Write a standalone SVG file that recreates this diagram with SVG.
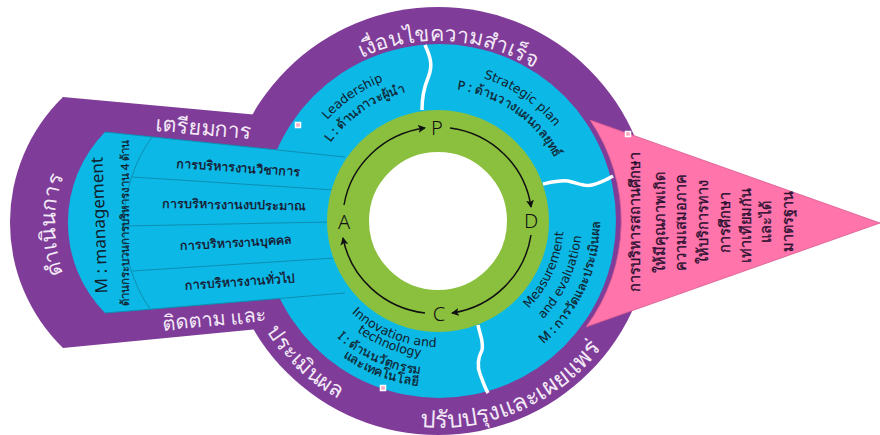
<svg xmlns="http://www.w3.org/2000/svg" width="880" height="435" viewBox="0 0 880 435">
<style>
text{font-family:"Noto Sans","Open Sans","DejaVu Sans",sans-serif;text-anchor:middle}
.h{fill:#f3e9f7;font-size:21.500px}
.k{fill:#10202c;font-size:12.500px;font-family:"DejaVu Sans",sans-serif}
.a{fill:#10202c;font-size:12.500px;stroke:#10202c;stroke-width:0.250}
.b{fill:#1a1026;font-size:12.500px;stroke:#1a1026;stroke-width:0.300}
.p{fill:#2a1030;font-size:14.500px;stroke:#2a1030;stroke-width:0.300}
.l{fill:#111;font-size:20px;font-weight:300}
.d{stroke:#0c8fb2;stroke-width:1;fill:none}
.w{stroke:#fff;stroke-width:3.500;fill:none}
.c{stroke:#111;stroke-width:1.500;fill:none;marker-end:url(#ah)}
.s{fill:#f8a9c4;stroke:#fff;stroke-width:1.500}
</style>
<defs>
<marker id="ah" markerWidth="10" markerHeight="10" refX="7" refY="4" orient="auto" markerUnits="userSpaceOnUse"><path d="M0,0L8,4L0,8L2,4Z" fill="#111"/></marker>
<path id="t180" d="M258,221A180,180 0 0 1 618,221"/>
<path id="t150" d="M288,221A150,150 0 0 1 588,221"/>
<path id="t133" d="M305,221A133,133 0 0 1 571,221"/>
<path id="b126" d="M312,221A126,126 0 0 0 564,221"/>
<path id="b137" d="M301,221A137,137 0 0 0 575,221"/>
<path id="b144" d="M294,221A144,144 0 0 0 582,221"/>
<path id="b154" d="M284,221A154,154 0 0 0 592,221"/>
<path id="b162" d="M276,221A162,162 0 0 0 600,221"/>
<path id="b166" d="M272,221A166,166 0 0 0 604,221"/>
<path id="b204" d="M234,221A204,204 0 0 0 642,221"/>
<path id="b207" d="M231,221A207,207 0 0 0 645,221"/>
<path id="lft" d="M195,365A140,140 0 0 1 195,85"/>
</defs>
<g id="frame">
<circle cx="438" cy="221" r="214" fill="#7f3c98"/>
<path d="M63,97L270,116L270,328L63,348A175,175 0 0 1 63,97Z" fill="#7f3c98"/>
</g>
<g id="pink-goal">
<path d="M590,120L880,223L586,327A178,178 0 0 0 590,120Z" fill="#ff74ab" stroke="#d85a90" stroke-width="0.800"/>
</g>
<g id="cyan-ring">
<circle cx="439" cy="221" r="177" fill="#0cb8e6"/>
</g>
<g id="manage-arm">
<path d="M105,132L345,157L345,293L105,313A129,129 0 0 1 105,132Z" fill="#0cb8e6"/>
<path class="d" d="M152,137A150,150 0 0 0 150,309M132,177L335,190M125,226L330,222M132,271L335,258M105,132L345,157M105,313L345,293"/>
<text class="a" style="font-size:17px;stroke:none" transform="translate(105,225) rotate(-92)">M : management</text>
<text class="a" style="font-size:11.500px" transform="translate(129,223) rotate(-90)">ด้านกระบวนการบริหารงาน 4 ด้าน</text>
<text class="b" transform="translate(238,172) rotate(4)">การบริหารงานวิชาการ</text>
<text class="b" transform="translate(234,209) rotate(1)">การบริหารงานงบประมาณ</text>
<text class="b" transform="translate(236,247) rotate(-3)">การบริหารงานบุคคล</text>
<text class="b" transform="translate(240,286) rotate(-4)">การบริหารงานทั่วไป</text>
</g>
<g id="dividers">
<path class="w" d="M425,45C431,58 433,66 428,78C423,90 422,98 422,110"/>
<path class="w" d="M543,184C552,182 560,180 568,181C578,183 585,187 592,185C600,183 606,180 613,176"/>
<path class="w" d="M478,325C480,335 484,342 482,350C478,358 477,366 480,374C483,382 485,388 488,393"/>
</g>
<g id="green-ring">
<circle cx="438" cy="221" r="90" fill="#fff" stroke="#8bc03f" stroke-width="42"/>
</g>
<g id="pdca-arrows">
<path class="c" d="M344,205A95,93 0 0 1 425,128"/>
<path class="c" d="M450,128A94,93 0 0 1 531,207"/>
<path class="c" d="M531,235A94,93 0 0 1 452,313"/>
<path class="c" d="M425,313A95,93 0 0 1 343,238"/>
</g>
<g id="node-p"><text class="l" x="437" y="135">P</text></g>
<g id="node-d"><text class="l" x="531" y="228">D</text></g>
<g id="node-c"><text class="l" x="439" y="321">C</text></g>
<g id="node-a"><text class="l" x="344" y="229">A</text></g>
<g id="heads">
<text class="h" transform="rotate(3.600 438 221)"><textPath href="#t180" startOffset="50%">เงื่อนไขความสำเร็จ</textPath></text>
<text class="h" transform="translate(203,135) rotate(5)">เตรียมการ</text>
<text class="h"><textPath href="#lft" startOffset="50%">ดำเนินการ</textPath></text>
<text class="h" style="font-size:20px" transform="translate(215,326) rotate(-5)">ติดตาม และ</text>
<text class="h" transform="rotate(43.300 438 221)"><textPath href="#b204" startOffset="50%">ประเมินผล</textPath></text>
<text class="h" style="font-size:24px" transform="rotate(-23.500 438 221)"><textPath href="#b207" startOffset="50%">ปรับปรุงและเผยแพร่</textPath></text>
</g>
<g id="leadership">
<text class="k" transform="rotate(-34.500 438 221)"><textPath href="#t150" startOffset="50%">Leadership</textPath></text>
<text class="a" transform="rotate(-34 438 221)"><textPath href="#t133" startOffset="50%">L : ด้านภาวะผู้นำ</textPath></text>
</g>
<g id="strategic">
<text class="k" transform="rotate(34.400 438 221)"><textPath href="#t150" startOffset="50%">Strategic plan</textPath></text>
<text class="a" transform="rotate(35 438 221)"><textPath href="#t133" startOffset="50%">P : ด้านวางแผนกลยุทธ์</textPath></text>
</g>
<g id="measurement">
<text class="k" transform="rotate(-65.500 438 221)"><textPath href="#b126" startOffset="50%">Measurement</textPath></text>
<text class="k" transform="rotate(-65.500 438 221)"><textPath href="#b144" startOffset="50%">and evaluation</textPath></text>
<text class="a" transform="rotate(-65.300 438 221)"><textPath href="#b162" startOffset="50%">M : การวัดและประเมินผล</textPath></text>
</g>
<g id="innovation">
<text class="k" transform="rotate(22 438 221)"><textPath href="#b126" startOffset="50%">Innovation and</textPath></text>
<text class="k" transform="rotate(21.700 438 221)"><textPath href="#b137" startOffset="50%">technology</textPath></text>
<text class="a" transform="rotate(23.700 438 221)"><textPath href="#b154" startOffset="50%">I : ด้านนวัตกรรม</textPath></text>
<text class="a" transform="rotate(21 438 221)"><textPath href="#b166" startOffset="50%">และเทคโนโลยี</textPath></text>
</g>
<g id="goal-text">
<text class="p" transform="translate(640,222) rotate(-90)">การบริหารสถานศึกษา</text>
<text class="p" transform="translate(665,222) rotate(-90)">ให้มีคุณภาพเกิด</text>
<text class="p" transform="translate(686,222) rotate(-90)">ความเสมอภาค</text>
<text class="p" transform="translate(708,222) rotate(-90)">ให้บริการทาง</text>
<text class="p" transform="translate(730,222) rotate(-90)">การศึกษา</text>
<text class="p" transform="translate(751,225) rotate(-90)">เท่าเทียมกัน</text>
<text class="p" transform="translate(771,222) rotate(-90)">และได้</text>
<text class="p" transform="translate(793,221) rotate(-90)">มาตรฐาน</text>
</g>
<g id="handles">
<rect class="s" x="295.500" y="122.500" width="5" height="5"/>
<rect class="s" x="625.500" y="131.500" width="5" height="5"/>
<rect class="s" x="380.500" y="385.500" width="5" height="5"/>
</g>
</svg>
